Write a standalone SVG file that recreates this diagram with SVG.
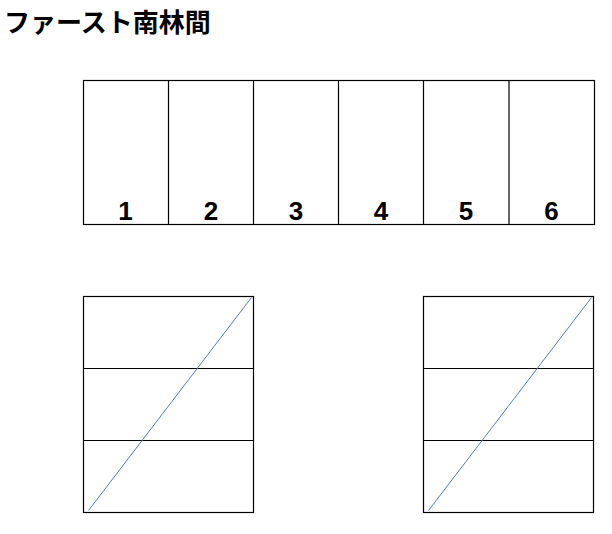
<svg xmlns="http://www.w3.org/2000/svg" width="612" height="534" viewBox="0 0 612 534">
<style>
.box{fill:#fff;stroke:#000;stroke-width:1.2}
.div{stroke:#000;stroke-width:1.2}
.diag{stroke:#4f7fd2;stroke-width:1}
.num{font-family:"Liberation Sans",Arial,sans-serif;font-weight:bold;font-size:26px;text-anchor:middle;fill:#000}
.title{font-family:"Noto Sans CJK JP","Noto Sans",sans-serif;font-weight:bold;font-size:26px;fill:#000}
</style>
<rect width="612" height="534" fill="#fff"/>
<text class="title" x="4" y="32">ファースト南林間</text>
<g id="row">
<rect class="box" x="83.5" y="80.5" width="511" height="144"/>
<g id="slot1"><text class="num" x="125.5" y="220">1</text></g>
<g id="slot2"><line class="div" x1="168.5" y1="80.5" x2="168.5" y2="224.5"/><text class="num" x="211" y="220">2</text></g>
<g id="slot3"><line class="div" x1="253.5" y1="80.5" x2="253.5" y2="224.5"/><text class="num" x="296" y="220">3</text></g>
<g id="slot4"><line class="div" x1="338.5" y1="80.5" x2="338.5" y2="224.5"/><text class="num" x="381" y="220">4</text></g>
<g id="slot5"><line class="div" x1="423.5" y1="80.5" x2="423.5" y2="224.5"/><text class="num" x="466" y="220">5</text></g>
<g id="slot6"><line class="div" x1="509" y1="80.5" x2="509" y2="224.5"/><text class="num" x="551.5" y="220">6</text></g>
</g>
<g id="blockLeft">
<rect class="box" x="83.5" y="296.5" width="170" height="216"/>
<line class="div" x1="83.5" y1="368.5" x2="253.5" y2="368.5"/>
<line class="div" x1="83.5" y1="440.5" x2="253.5" y2="440.5"/>
</g>
<g id="blockRight">
<rect class="box" x="423.5" y="296.5" width="170" height="216"/>
<line class="div" x1="423.5" y1="368.5" x2="593.5" y2="368.5"/>
<line class="div" x1="423.5" y1="440.5" x2="593.5" y2="440.5"/>
</g>
<g id="connectors">
<line class="diag" x1="88.5" y1="510.5" x2="251.5" y2="297.5"/>
<line class="diag" x1="428.5" y1="510.5" x2="591.5" y2="297.5"/>
</g>
</svg>
